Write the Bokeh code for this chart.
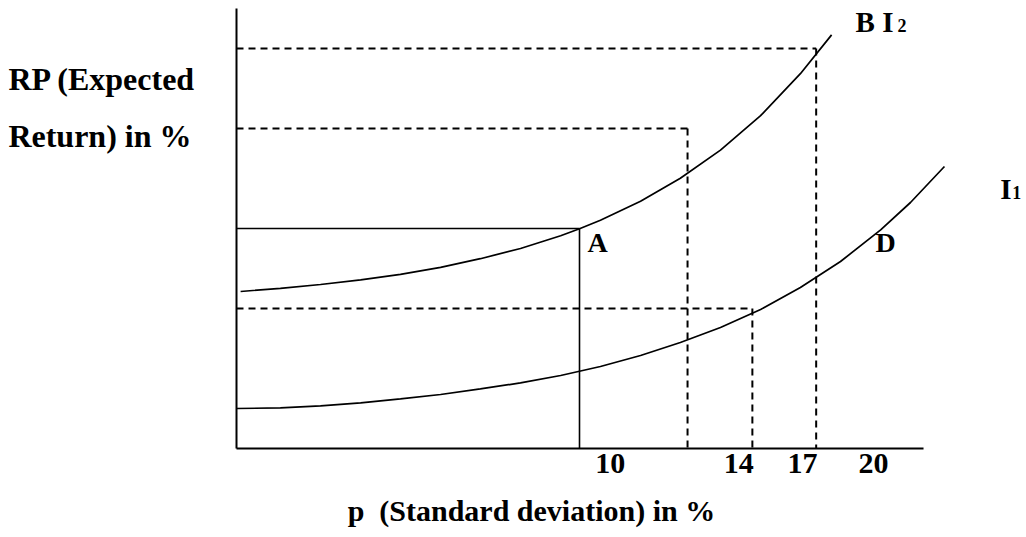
from bokeh.plotting import figure
from bokeh.models import Range1d
from bokeh.core.properties import value
from bokeh.embed import file_html
from bokeh.resources import INLINE

# ---------------- data ----------------
# Indifference curve I2 (upper): standard deviation (%) vs expected return (%)
i2_sigma = [0.12, 1.28, 2.45, 3.62, 4.78, 5.95, 7.11, 8.28, 9.45, 10.0,
            10.61, 11.78, 12.94, 14.11, 15.28, 16.44, 17.35]
i2_ret = [7.85, 8.01, 8.20, 8.43, 8.71, 9.06, 9.49, 10.0, 10.64, 10.99,
          11.41, 12.36, 13.51, 14.92, 16.64, 18.74, 20.68]

# Indifference curve I1 (lower)
i1_sigma = [0.0, 1.28, 2.45, 3.62, 4.78, 5.95, 7.11, 8.28, 9.45, 10.61,
            11.78, 12.94, 14.11, 15.28, 16.44, 17.61, 18.78, 19.65, 20.64]
i1_ret = [2.0, 2.03, 2.13, 2.28, 2.48, 2.70, 2.98, 3.28, 3.65, 4.10,
          4.65, 5.30, 6.05, 6.95, 8.05, 9.35, 10.93, 12.30, 14.10]

# Point A (solid guide lines)
a_sigma = 10.0
a_ret = 11.0

# Dashed guide points (sigma, return)
dash_sigma = [13.15, 15.04, 16.9]
dash_ret = [16.0, 7.0, 20.0]

# axes extents
x_max = 20.03
y_max = 22.0

# tick labels
tick_labels = ["10", "14", "17", "20"]
tick_label_x = [10.90, 14.64, 16.50, 18.57]

FONT = value("Liberation Serif")

# ---------------- figure ----------------
px_per_x = 34.3
px_per_y = 20.0
W, H = 1026, 537
x0 = -236 / px_per_x
x1 = x0 + W / px_per_x
y1 = 448 / px_per_y
y0 = y1 - H / px_per_y

p = figure(width=W, height=H, x_range=Range1d(x0, x1), y_range=Range1d(y0, y1),
           output_backend="svg", toolbar_location=None, min_border=0,
           x_axis_type=None, y_axis_type=None)
p.outline_line_color = None
p.background_fill_color = "white"
p.border_fill_color = "white"

# axes
p.segment(x0=[0, 0], y0=[0, 0], x1=[x_max, 0], y1=[0, y_max],
          line_color="black", line_width=2)

# dashed guides
p.segment(x0=[0] * 3, y0=dash_ret, x1=dash_sigma, y1=dash_ret,
          line_color="black", line_width=2, line_dash="7 5")
p.segment(x0=dash_sigma, y0=dash_ret, x1=dash_sigma, y1=[0] * 3,
          line_color="black", line_width=2, line_dash="7 5")

# solid guides for A
p.segment(x0=[0, a_sigma], y0=[a_ret, a_ret], x1=[a_sigma, a_sigma], y1=[a_ret, 0],
          line_color="black", line_width=1.6)

# curves
p.line(i2_sigma, i2_ret, line_color="black", line_width=1.7)
p.line(i1_sigma, i1_ret, line_color="black", line_width=1.7)

def txt(x, y, t, size, align="left"):
    p.text(x=x, y=y, text=t, text_font=FONT, text_font_style="bold",
           text_font_size=size, text_align=align, text_baseline="alphabetic",
           text_color="black")

# tick labels
txt(tick_label_x, [-0.75] * 4, tick_labels, "30px", "center")

# axis titles
txt([-6.65], [18.5], ["RP (Expected"], "32px")
txt([-6.65], [15.65], ["Return) in %"], "32px")
txt([3.24], [-3.1], ["p\u00a0 (Standard deviation) in %"], "30px")

# point and curve labels
txt([10.23], [10.3], ["A"], "28px")
txt([18.63], [10.3], ["D"], "28px")
txt([18.05], [21.35], ["B I"], "29px")
txt([19.27], [21.15], ["2"], "18px")
txt([22.27], [13.0], ["I"], "29px")
txt([22.62], [12.8], ["1"], "18px")

open("out.html", "w").write(file_html(p, INLINE))
